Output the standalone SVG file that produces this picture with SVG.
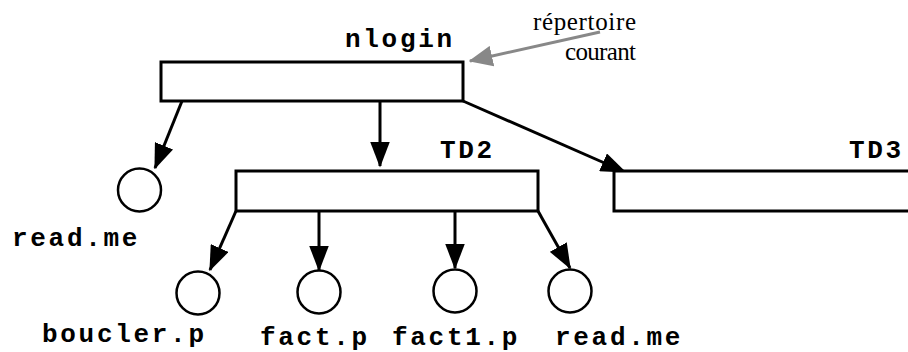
<svg xmlns="http://www.w3.org/2000/svg" width="908" height="352" viewBox="0 0 908 352">
<style>
.box{fill:#fff;stroke:#000;stroke-width:3}
.leaf{fill:#fff;stroke:#000;stroke-width:2.5}
.lbl{font-family:"Liberation Mono","Courier New",monospace;font-weight:bold;font-size:26px;letter-spacing:2.7px;fill:#000}
.note{font-family:"Liberation Serif","Times New Roman",serif;font-size:25px;fill:#000}
.edge{stroke:#000;stroke-width:3;fill:none}
</style>
<defs>
<marker id="ah" markerWidth="8.5" markerHeight="6.5" refX="8" refY="3.25" orient="auto" markerUnits="strokeWidth">
<path d="M0,0 L8.5,3.25 L0,6.5 Z" fill="#000"/>
</marker>
<marker id="ahg" markerWidth="8" markerHeight="7" refX="7.5" refY="3.5" orient="auto" markerUnits="strokeWidth">
<path d="M0,0 L8,3.5 L0,7 Z" fill="#888"/>
</marker>
</defs>
<g id="connectors">
<line class="edge" x1="182" y1="101" x2="155" y2="168" marker-end="url(#ah)"/>
<line class="edge" x1="380" y1="101" x2="380" y2="166" marker-end="url(#ah)"/>
<line class="edge" x1="463" y1="101" x2="625" y2="172" marker-end="url(#ah)"/>
<line class="edge" x1="236" y1="211" x2="210" y2="270" marker-end="url(#ah)"/>
<line class="edge" x1="319" y1="211" x2="319" y2="270" marker-end="url(#ah)"/>
<line class="edge" x1="455" y1="211" x2="455" y2="268" marker-end="url(#ah)"/>
<line class="edge" x1="538" y1="211" x2="570" y2="268" marker-end="url(#ah)"/>
<line x1="600" y1="32" x2="470" y2="61" stroke="#888" stroke-width="3" marker-end="url(#ahg)"/>
</g>
<g id="nlogin">
<rect class="box" x="161" y="62" width="302" height="39"/>
<text class="lbl" x="345" y="47">nlogin</text>
</g>
<g id="note">
<text class="note" x="533" y="30" textLength="103">répertoire</text>
<text class="note" x="565" y="60" textLength="71">courant</text>
</g>
<g id="TD2">
<rect class="box" x="236" y="171" width="302" height="40"/>
<text class="lbl" x="440" y="158">TD2</text>
</g>
<g id="TD3">
<rect class="box" x="614" y="171" width="310" height="40"/>
<text class="lbl" x="849" y="158">TD3</text>
</g>
<g id="readme1">
<circle class="leaf" cx="139.5" cy="190" r="21.5"/>
<text class="lbl" x="12" y="246">read.me</text>
</g>
<g id="boucler">
<circle class="leaf" cx="198" cy="293" r="21.5"/>
<text class="lbl" x="42" y="342">boucler.p</text>
</g>
<g id="fact">
<circle class="leaf" cx="319" cy="292" r="21.5"/>
<text class="lbl" x="260" y="345">fact.p</text>
</g>
<g id="fact1">
<circle class="leaf" cx="455" cy="291" r="21.5"/>
<text class="lbl" x="392" y="345">fact1.p</text>
</g>
<g id="readme2">
<circle class="leaf" cx="570" cy="291" r="21.5"/>
<text class="lbl" x="555" y="345">read.me</text>
</g>
</svg>
